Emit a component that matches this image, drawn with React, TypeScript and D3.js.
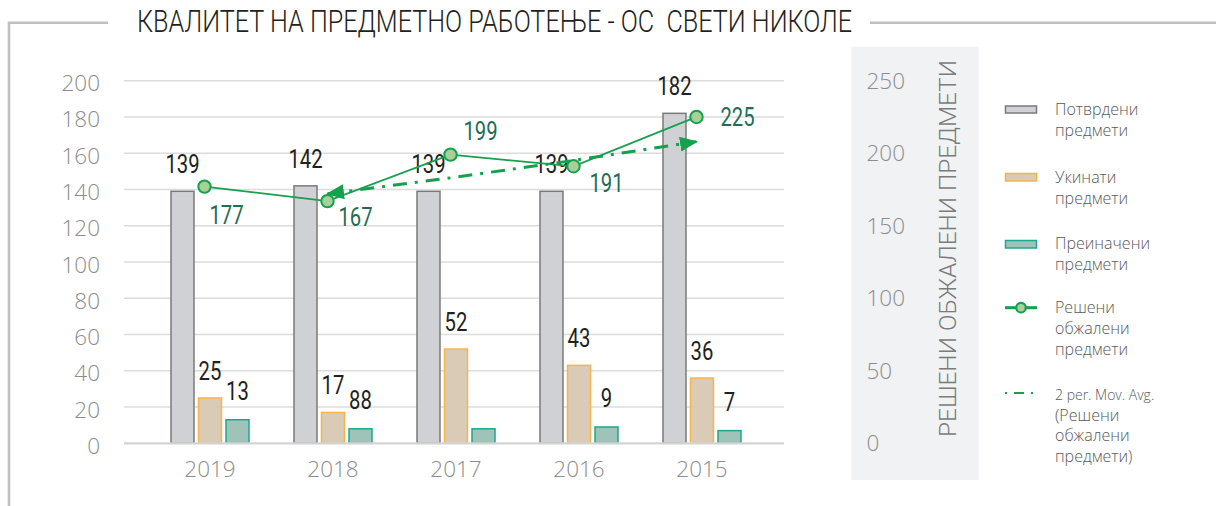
import React from 'react';
import * as d3 from 'd3';

const years = ['2019', '2018', '2017', '2016', '2015'];
const confirmed = [139, 142, 139, 139, 182];
const annulled = [25, 17, 52, 43, 36];
const modified = [13, 8, 8, 9, 7];
const confirmedLabels = ['139', '142', '139', '139', '182'];
const annulledLabels = ['25', '17', '52', '43', '36'];
const modifiedLabels = ['13', '88', '', '9', '7'];
const resolved = [177, 167, 199, 191, 225];
const movAvg: (number | null)[] = [null, 172, 183, 195, 208];
const leftTicks = [0, 20, 40, 60, 80, 100, 120, 140, 160, 180, 200];
const rightTicks = [0, 50, 100, 150, 200, 250];
const seriesKeys = ['confirmed', 'annulled', 'modified'];

const TITLE = 'КВАЛИТЕТ НА ПРЕДМЕТНО РАБОТЕЊЕ - ОС  СВЕТИ НИКОЛЕ';
const RIGHT_TITLE = 'РЕШЕНИ ОБЖАЛЕНИ ПРЕДМЕТИ';

// label offsets for the "resolved" line labels (dx, dy from marker)
const resolvedLabelOffsets = [
  [22, 37],
  [28, 25],
  [30, -15],
  [33, 26],
  [41, 9],
];

const LIGHT = "'Open Sans', 'Noto Sans', sans-serif";
const COND = "Roboto, 'Liberation Sans', sans-serif";

function Cond({ x, y, text, fill, size = 26, sx = 0.78, weight = 400 }: any) {
  return (
    <g transform={`translate(${x},${y}) scale(${sx},1)`}>
      <text x={0} y={0} textAnchor="middle" fontFamily={COND} fontWeight={weight} fontSize={size} fill={fill}>
        {text}
      </text>
    </g>
  );
}

export default function App() {
  const W = 1216;
  const H = 506;
  const y0 = 443.3;
  const yTop = 80.7;
  const gridX1 = 124;
  const gridX2 = 784;

  const yL = d3.scaleLinear().domain([0, 200]).range([y0, yTop]);
  const yR = d3.scaleLinear().domain([0, 250]).range([y0, yTop]);
  const x = d3.scaleBand<string>().domain(years).range([148.5, 763.5]).padding(0);
  const inner = d3.scaleBand<string>().domain(seriesKeys).range([-39, 39]).paddingInner(0.164).paddingOuter(0);
  const cx = (i: number) => (x(years[i]) as number) + x.bandwidth() / 2;
  const lineX = (i: number) => cx(i) - 5.5;

  const seriesData: Record<string, number[]> = { confirmed, annulled, modified };
  const seriesStyle: Record<string, { fill: string; stroke: string }> = {
    confirmed: { fill: '#d0d1d4', stroke: '#7a7a7a' },
    annulled: { fill: '#d9cbb5', stroke: '#f7b44a' },
    modified: { fill: '#9fc3b8', stroke: '#1ea693' },
  };
  const seriesLabels: Record<string, string[]> = {
    confirmed: confirmedLabels,
    annulled: annulledLabels,
    modified: modifiedLabels,
  };
  const labelGap: Record<string, number> = { confirmed: 18, annulled: 18, modified: 20 };

  const lineGen = d3
    .line<number>()
    .x((_, i) => lineX(i))
    .y((d) => yR(d));

  const maPts = movAvg
    .map((v, i) => (v == null ? null : [lineX(i), yR(v)]))
    .filter((p) => p != null) as [number, number][];
  const maPath = d3.line()(maPts) as string;

  const green = '#15a04e';
  const labelGreen = '#1f6d56';
  const axisText = '#8c8c8c';

  return (
    <svg
      width={W}
      height={H}
      style={{ position: 'absolute', left: 0, top: 0, background: '#fff' }}
      xmlns="http://www.w3.org/2000/svg"
    >
      <defs>
        <marker
          id="arrow"
          viewBox="0 0 12 10"
          refX={11}
          refY={5}
          markerWidth={6}
          markerHeight={5}
          orient="auto-start-reverse"
        >
          <path d="M0,0 L12,5 L0,10 z" fill={green} />
        </marker>
      </defs>

      {/* frame */}
      <path d={`M9,506 L9,22.7 L108,22.7`} fill="none" stroke="#c0c0c4" strokeWidth={2.6} />
      <line x1={870} y1={22.7} x2={1216} y2={22.7} stroke="#c0c0c4" strokeWidth={2.6} />

      {/* title */}
      <text
        x={137}
        y={31.7}
        fontFamily={COND}
        fontWeight={300}
        fontSize={30.5}
        fill="#231f20"
        textLength={715}
        lengthAdjust="spacingAndGlyphs"
        style={{ whiteSpace: 'pre' }}
      >
        {TITLE}
      </text>

      {/* right panel */}
      <rect x={851.5} y={46.7} width={127.5} height={433.3} fill="#f1f2f4" />

      {/* grid */}
      {leftTicks
        .filter((t) => t > 0)
        .map((t) => (
          <line key={t} x1={gridX1} x2={gridX2} y1={yL(t)} y2={yL(t)} stroke="#dcdcdc" strokeWidth={1.5} />
        ))}

      {/* left axis labels */}
      {leftTicks.map((t) => (
        <text
          key={t}
          x={100}
          y={yL(t) + 10.5}
          textAnchor="end"
          fontFamily={LIGHT}
          fontWeight={300}
          fontSize={22.5}
          fill={axisText}
        >
          {t}
        </text>
      ))}

      {/* right axis labels */}
      {rightTicks.map((t) => (
        <text
          key={t}
          x={866.5}
          y={yR(t) + 7.8}
          textAnchor="start"
          fontFamily={LIGHT}
          fontWeight={300}
          fontSize={22.5}
          fill={axisText}
        >
          {t}
        </text>
      ))}

      {/* right axis title */}
      <g transform={`translate(955.5,437) rotate(-90)`}>
        <text
          x={0}
          y={0}
          fontFamily={COND}
          fontWeight={300}
          fontSize={24}
          fill="#7b7b7b"
          textLength={377}
          lengthAdjust="spacingAndGlyphs"
        >
          {RIGHT_TITLE}
        </text>
      </g>

      {/* bars */}
      {seriesKeys.map((k) =>
        years.map((yr, i) => {
          const v = seriesData[k][i];
          const bx = cx(i) + (inner(k) as number);
          return (
            <rect
              key={k + yr}
              x={bx}
              y={yL(v)}
              width={inner.bandwidth()}
              height={y0 - yL(v)}
              fill={seriesStyle[k].fill}
              stroke={seriesStyle[k].stroke}
              strokeWidth={1.5}
            />
          );
        })
      )}

      {/* x axis line */}
      <line x1={gridX1} x2={gridX2} y1={y0} y2={y0} stroke="#d4d4d4" strokeWidth={2.2} />

      {/* x labels */}
      {years.map((yr, i) => (
        <text
          key={yr}
          x={cx(i)}
          y={476.7}
          textAnchor="middle"
          fontFamily={LIGHT}
          fontWeight={300}
          fontSize={22.5}
          fill={axisText}
        >
          {yr}
        </text>
      ))}

      {/* bar labels */}
      {seriesKeys.map((k) =>
        years.map((yr, i) => {
          const lab = seriesLabels[k][i];
          if (!lab) return null;
          const v = seriesData[k][i];
          const bx = cx(i) + (inner(k) as number) + inner.bandwidth() / 2;
          return <Cond key={'l' + k + yr} x={bx} y={yL(v) - labelGap[k]} text={lab} fill="#231f20" />;
        })
      )}

      {/* moving average */}
      <path
        d={maPath}
        fill="none"
        stroke={green}
        strokeWidth={3}
        strokeDasharray="14,8,3,8"
        markerStart="url(#arrow)"
        markerEnd="url(#arrow)"
      />

      {/* resolved line */}
      <path d={lineGen(resolved) as string} fill="none" stroke={green} strokeWidth={1.8} />
      {resolved.map((v, i) => (
        <circle key={'m' + i} cx={lineX(i)} cy={yR(v)} r={6.2} fill="#a8d09a" stroke={green} strokeWidth={2} />
      ))}
      {resolved.map((v, i) => (
        <Cond
          key={'rl' + i}
          x={lineX(i) + resolvedLabelOffsets[i][0]}
          y={yR(v) + resolvedLabelOffsets[i][1]}
          text={String(v)}
          fill={labelGreen}
        />
      ))}

      {/* legend */}
      <g fontFamily={LIGHT} fontWeight={300} fontSize={16} fill="#595959">
        <rect x={1005.5} y={106} width={31} height={7} fill={seriesStyle.confirmed.fill} stroke={seriesStyle.confirmed.stroke} strokeWidth={1.5} />
        <text x={1055} y={115}>Потврдени</text>
        <text x={1055} y={136}>предмети</text>

        <rect x={1005.5} y={173.5} width={31} height={7.5} fill={seriesStyle.annulled.fill} stroke={seriesStyle.annulled.stroke} strokeWidth={1.5} />
        <text x={1055} y={183}>Укинати</text>
        <text x={1055} y={204}>предмети</text>

        <rect x={1005.5} y={240.5} width={31} height={7.5} fill={seriesStyle.modified.fill} stroke={seriesStyle.modified.stroke} strokeWidth={1.5} />
        <text x={1055} y={249}>Преиначени</text>
        <text x={1055} y={270}>предмети</text>

        <line x1={1005} x2={1037} y1={307.7} y2={307.7} stroke={green} strokeWidth={3} />
        <circle cx={1021} cy={307.7} r={4.8} fill="#a8d09a" stroke={green} strokeWidth={2.2} />
        <text x={1055} y={313}>Решени</text>
        <text x={1055} y={334}>обжалени</text>
        <text x={1055} y={355}>предмети</text>

        <line x1={1005} x2={1037} y1={393} y2={393} stroke={green} strokeWidth={2} strokeDasharray="2,7,10,7" />
        <text x={1055} y={400} fontSize={14}>2 per. Mov. Avg.</text>
        <text x={1055} y={421}>(Решени</text>
        <text x={1055} y={441}>обжалени</text>
        <text x={1055} y={462}>предмети)</text>
      </g>
    </svg>
  );
}
